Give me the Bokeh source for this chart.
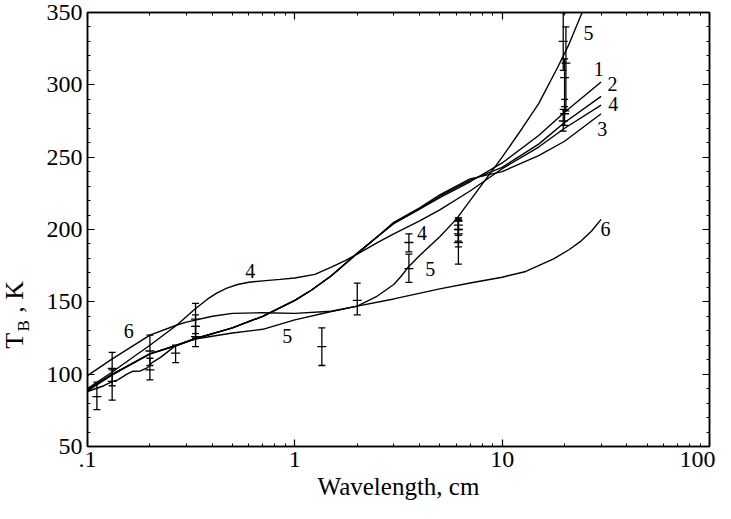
import math
from bokeh.plotting import figure
from bokeh.layouts import row
from bokeh.models import (Range1d, FixedTicker, LogAxis, LinearAxis, CustomJSTickFormatter,
                          Label, ColumnDataSource, Whisker, TeeHead)
from bokeh.core.properties import value
from bokeh.embed import file_html
from bokeh.resources import INLINE

# ---------------- data ----------------
wl_a = [0.1, 0.13, 0.2, 0.27, 0.33, 0.5, 0.7, 1, 1.2, 1.5, 2, 2.5, 3, 4, 5, 7, 10, 15, 20, 30]
curve1 = [89, 99.5, 114, 120, 124.5, 132, 140, 151, 158, 168, 183.5, 195, 204, 214, 222, 233, 246, 265, 281, 302]
curve2 = [89, 99.5, 114, 120, 124.5, 132, 140, 151, 158, 168, 183.5, 195, 204.5, 214.5, 223, 234, 243, 259, 274, 292]
curve3 = [88.5, 99, 114, 120, 124.5, 132, 140, 151, 158, 168, 183.5, 195, 205, 215, 224, 235, 240, 251, 261, 280]

wl_4 = [0.1, 0.13, 0.2, 0.27, 0.33, 0.38, 0.42, 0.47, 0.53, 0.6, 0.7, 0.85, 1, 1.25, 1.5,
        1.75, 2, 2.5, 3, 4, 5, 7, 10, 15, 20, 30]
curve4 = [90, 101, 120, 134, 145, 152, 156, 159.5, 162, 163.5, 164.5, 165.5, 166.5, 169, 174,
          178.5, 183, 191, 197, 206, 213.6, 226.6, 242, 257, 270, 286]

wl_5 = [0.1, 0.12, 0.13, 0.14, 0.155, 0.165, 0.18, 0.195, 0.205, 0.225, 0.266, 0.33, 0.5,
        0.7, 1, 1.5, 2, 2.5, 3, 3.25, 3.5, 4, 5, 6, 7, 10, 12.5, 15, 18.5, 21, 24.3, 25]
curve5 = [88, 92, 94.5, 96, 100, 102, 102.2, 104.5, 108, 111.6, 119.7, 124.3, 128.5,
          131, 137.5, 143.3, 147, 154, 162, 167.5, 173.5, 182, 195, 207, 220, 250, 270, 287, 312,
          328, 350, 354]

wl_6 = [0.1, 0.13, 0.2, 0.27, 0.3, 0.4, 0.5, 0.7, 1, 1.5, 2, 3, 5, 7, 10, 13, 17.7, 21, 24, 27, 30]
curve6 = [99, 110, 127, 134, 136, 140, 142, 142.5, 142, 143.5, 147, 152, 159, 163, 167, 171,
          179.7, 186, 192, 199, 207]

# measurements with error bars
obs_wl = [0.111, 0.1315, 0.1315, 0.2, 0.2, 0.266, 0.332, 0.332, 0.332, 1.35, 2.0, 3.55, 3.55,
          6.15, 6.15, 6.15, 6.15, 6.15, 19.7, 20.3, 20.0, 20.0, 19.7]
obs_tb = [84.5, 104, 95, 116, 103, 114.5, 138, 133, 126, 119, 151, 191, 173,
          206, 203, 200, 197, 191, 330, 315, 305, 280, 275]
obs_lo = [75.5, 92, 82, 106, 96, 108, 128, 125, 119, 106, 141, 184.5, 163.5,
          200, 196, 192, 188, 176, 310, 282, 285, 272, 268]
obs_hi = [94.5, 115, 103, 127, 111, 120, 149, 141, 133, 132, 163, 197, 183,
          208, 208, 207, 206, 206, 350, 340, 318, 290, 283]

# curve labels
lab_text = ["1", "2", "4", "3", "5", "6", "6", "4", "5", "4", "5"]
lab_wl = [29.2, 34.1, 34.3, 30.4, 26.1, 31.5, 0.158, 0.61, 0.92, 4.1, 4.5]
lab_tb = [310.7, 300.3, 286.6, 269.3, 335.5, 200.3, 130, 171, 126.5, 197.8, 172.7]

# y-axis title pieces: text, start position along the axis (in K)
ytitle_text = ["T", "B", ", K"]
ytitle_at = [117.6, 129.5, 142.4]

x_major = [0.1, 1, 10, 100]
x_minor = [m * d for d in (0.1, 1, 10) for m in range(2, 10)]
y_major = [50, 100, 150, 200, 250, 300, 350]
y_minor = [v for v in range(50, 351, 10) if v % 50]

FONT = "Liberation Serif"
H = 503
LW = 34  # width of the strip holding the y-axis title

yr = Range1d(50, 350)
p = figure(width=715 - LW, height=H, x_axis_type="log",
           x_range=Range1d(0.1, 100), y_range=yr,
           output_backend="svg", toolbar_location=None,
           min_border_left=87 - LW, min_border_right=6, min_border_top=12, min_border_bottom=57)
p.grid.visible = False
p.outline_line_color = "black"
p.outline_line_width = 1.5

xt = FixedTicker(ticks=x_major, minor_ticks=x_minor)
yt = FixedTicker(ticks=y_major, minor_ticks=y_minor)
xfmt = CustomJSTickFormatter(code="return tick < 0.5 ? '.1' : tick.toFixed(0);")

def style(ax, labels=True):
    ax.major_tick_in = 7
    ax.major_tick_out = 0
    ax.minor_tick_in = 3
    ax.minor_tick_out = 0
    ax.axis_line_width = 1.5
    ax.major_tick_line_width = 1.2
    ax.minor_tick_line_width = 1
    if labels:
        ax.major_label_text_font = FONT
        ax.major_label_text_font_size = "24px"
        ax.major_label_text_color = "black"
    else:
        ax.major_label_text_font_size = "1px"
        ax.major_label_text_alpha = 0
        ax.major_label_standoff = 0

xa = p.xaxis[0]
xa.ticker = xt
xa.formatter = xfmt
style(xa)
xa.major_label_standoff = 5
xa.axis_label = "Wavelength, cm"
xa.axis_label_text_font = FONT
xa.axis_label_text_font_size = "25px"
xa.axis_label_text_font_style = "normal"
xa.axis_label_text_color = "black"
xa.axis_label_standoff = 3

ya = p.yaxis[0]
ya.ticker = yt
style(ya)
ya.major_label_standoff = 5

top = LogAxis(ticker=xt)
style(top, labels=False)
p.add_layout(top, "above")
right = LinearAxis(ticker=yt)
style(right, labels=False)
p.add_layout(right, "right")

# curves
for xs, ys in [(wl_a, curve1), (wl_a, curve2), (wl_a, curve3), (wl_4, curve4),
               (wl_5, curve5), (wl_6, curve6)]:
    p.line(xs, ys, line_color="black", line_width=1.4)

# error bars
src = ColumnDataSource(dict(x=obs_wl, y=obs_tb, lo=obs_lo, hi=obs_hi))
p.add_layout(Whisker(base="x", upper="hi", lower="lo", source=src, line_color="black",
                     line_width=1.3,
                     upper_head=TeeHead(size=7, line_color="black", line_width=1.3),
                     lower_head=TeeHead(size=7, line_color="black", line_width=1.3)))
p.scatter("x", "y", source=src, marker="dash", size=9, line_color="black", line_width=1.3)

# curve number labels
p.text(x=lab_wl, y=lab_tb, text=lab_text, text_font=value(FONT), text_font_size="20px",
       text_align="center", text_baseline="middle", text_color="black")

# strip with the y-axis title "T_B , K" (subscript drawn as a separate, smaller text)
q = figure(width=LW, height=H, x_range=Range1d(0, LW), y_range=yr,
           output_backend="svg", toolbar_location=None,
           min_border_left=0, min_border_right=0, min_border_top=12, min_border_bottom=57)
q.axis.visible = False
q.grid.visible = False
q.outline_line_color = None
sizes = ["26px", "17px", "26px"]
xs_px = [14, 22.5, 14]
for t, at, sz, xp in zip(ytitle_text, ytitle_at, sizes, xs_px):
    q.add_layout(Label(x=xp, y=at, x_units="screen", y_units="data", text=t,
                       angle=math.pi / 2, text_font=FONT, text_font_size=sz,
                       text_color="black", text_baseline="middle", text_align="left"))

layout = row(q, p, spacing=0)
open("out.html", "w").write(file_html(layout, INLINE))
